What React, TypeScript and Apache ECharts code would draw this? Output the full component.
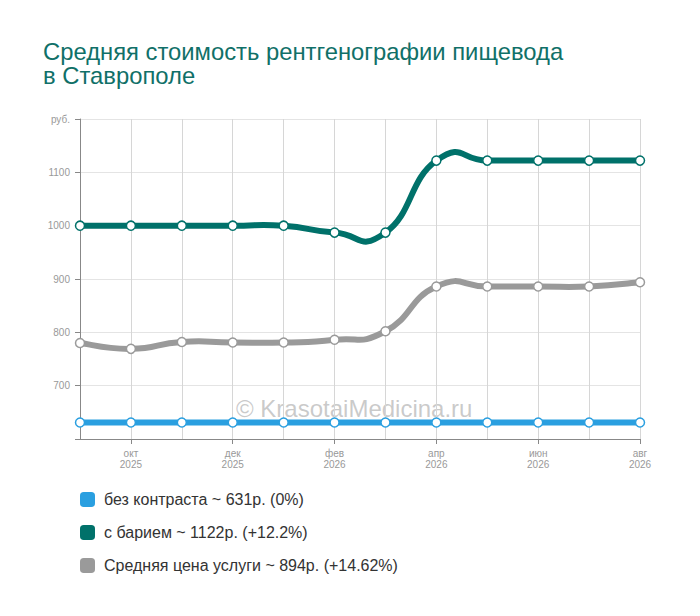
import React, { useEffect, useRef } from "react";
import * as echarts from "echarts";

const categories = [
  "сен\n2025", "окт\n2025", "ноя\n2025", "дек\n2025", "янв\n2026", "фев\n2026",
  "мар\n2026", "апр\n2026", "май\n2026", "июн\n2026", "июл\n2026", "авг\n2026",
];
const seriesNames = ["без контраста", "с барием", "Средняя цена услуги"];
const legendSuffix = ["~ 631р. (0%)", "~ 1122р. (+12.2%)", "~ 894р. (+14.62%)"];
const noContrast = [631, 631, 631, 631, 631, 631, 631, 631, 631, 631, 631, 631];
const withBarium = [1000, 1000, 1000, 1000, 1000, 987, 987, 1122, 1122, 1122, 1122, 1122];
const averagePrice = [780, 769, 782, 781, 781, 786, 802, 886, 886, 886, 886, 894];
const colors = ["#2a9fe0", "#00716a", "#9a9a9a"];
const yTicks = { min: 600, max: 1200, interval: 100, unit: "руб." };
const title = "Средняя стоимость рентгенографии пищевода\nв Ставрополе";
const watermark = "© KrasotaiMedicina.ru";

const TENSION = 0.27;

function curveRenderer(values: number[], color: string) {
  return (params: any, api: any) => {
    const j = params.dataIndex;
    const n = values.length;
    if (j >= n - 1) return null;
    const pt = (k: number) => {
      const kk = Math.max(0, Math.min(n - 1, k));
      return api.coord([kk, values[kk]]);
    };
    const p0 = pt(j - 1);
    const p1 = pt(j);
    const p2 = pt(j + 1);
    const p3 = pt(j + 2);
    return {
      type: "bezierCurve",
      shape: {
        x1: p1[0],
        y1: p1[1],
        x2: p2[0],
        y2: p2[1],
        cpx1: p1[0] + (p2[0] - p0[0]) * TENSION,
        cpy1: p1[1] + (p2[1] - p0[1]) * TENSION,
        cpx2: p2[0] - (p3[0] - p1[0]) * TENSION,
        cpy2: p2[1] - (p3[1] - p1[1]) * TENSION,
      },
      style: { stroke: color, lineWidth: 6, fill: null, lineCap: "round" },
      silent: true,
    };
  };
}

export default function App() {
  const ref = useRef<HTMLDivElement>(null);
  useEffect(() => {
    document.body.style.margin = "0";
    if (!ref.current) return;
    const chart = echarts.init(ref.current, null, { renderer: "svg" });
    const data = [noContrast, withBarium, averagePrice];
    const font = "Liberation Sans, Arial, sans-serif";
    const curves = seriesNames.map((name, i) => ({
      name,
      type: "custom",
      data: data[i].map((v, j) => [j, v]),
      renderItem: curveRenderer(data[i], colors[i]),
      encode: { x: 0, y: 1 },
      clip: false,
      z: 2,
    }));
    const points = seriesNames.map((name, i) => ({
      name,
      type: "line",
      data: data[i],
      color: colors[i],
      symbol: "circle",
      symbolSize: 9,
      showSymbol: true,
      itemStyle: { color: "#fff", borderColor: colors[i], borderWidth: 1.5 },
      lineStyle: { width: 0, opacity: 0 },
      z: 4,
    }));
    chart.setOption({
      animation: false,
      textStyle: { fontFamily: font },
      title: {
        text: title,
        left: 38,
        top: 34,
        textStyle: { color: "#107068", fontSize: 23.8, fontWeight: "normal", lineHeight: 24.5, fontFamily: font },
      },
      grid: { left: 80, right: 60, top: 119, bottom: 177, containLabel: false },
      legend: {
        orient: "vertical",
        left: 75,
        top: 486.5,
        itemWidth: 15,
        itemHeight: 15,
        itemGap: 17,
        icon: "roundRect",
        data: seriesNames.map((name, i) => ({ name, itemStyle: { color: colors[i], borderWidth: 0 } })),
        formatter: (name: string) => name + " " + legendSuffix[seriesNames.indexOf(name)],
        textStyle: { fontSize: 16, color: "#333", fontFamily: font, padding: [0, 0, 0, 4] },
      },
      graphic: [
        {
          type: "text",
          left: 236,
          top: 396,
          z: 0,
          style: { text: watermark, fontSize: 24, fill: "rgba(150,150,150,0.5)", fontFamily: font },
        },
      ],
      xAxis: {
        type: "category",
        data: categories,
        boundaryGap: false,
        axisLine: { lineStyle: { color: "#888" } },
        axisTick: { show: true, interval: (i: number) => i % 2 === 1, length: 5, lineStyle: { color: "#888" } },
        axisLabel: {
          interval: (i: number) => i % 2 === 1,
          color: "#999",
          fontSize: 10,
          lineHeight: 11,
          margin: 9,
          fontFamily: font,
        },
        splitLine: { show: true, interval: 0, lineStyle: { color: "#d6d6d6" } },
      },
      yAxis: {
        type: "value",
        min: yTicks.min,
        max: yTicks.max,
        interval: yTicks.interval,
        axisLine: { show: true, lineStyle: { color: "#888" } },
        axisTick: { show: true, length: 5, lineStyle: { color: "#888" } },
        axisLabel: {
          color: "#999",
          fontSize: 10,
          margin: 10,
          fontFamily: font,
          formatter: (v: number) => (v === yTicks.max ? yTicks.unit : v === yTicks.min ? "" : String(v)),
        },
        splitLine: { show: true, lineStyle: { color: "#e4e4e4" } },
      },
      series: [...curves, ...points],
    });
    return () => chart.dispose();
  }, []);
  return <div ref={ref} style={{ width: 700, height: 616 }} />;
}
